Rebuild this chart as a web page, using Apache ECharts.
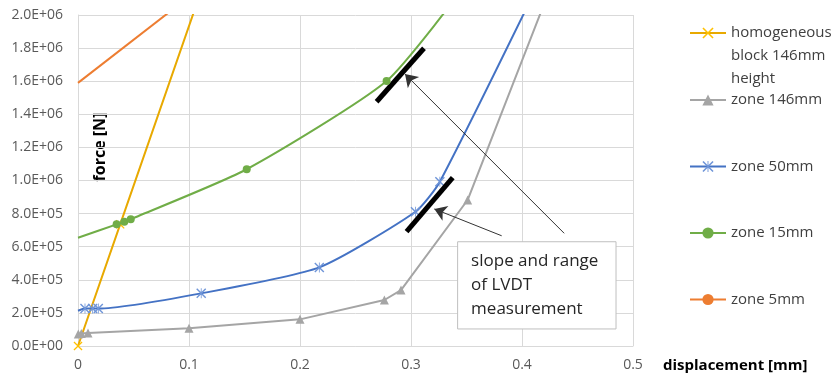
<!DOCTYPE html>
<html>
<head>
<meta charset="utf-8">
<script src="https://cdn.jsdelivr.net/npm/echarts@6/dist/echarts.min.js"></script>
<style>
html,body{margin:0;padding:0;background:#fff;}
#c{width:833px;height:380px;}
</style>
</head>
<body>
<div id="c"></div>
<script>
// ---- data (displacement [mm], force [N]) ----
const seriesNames = ['homogeneous block 146mm height', 'zone 146mm', 'zone 50mm', 'zone 15mm', 'zone 5mm'];
const homogeneous = [[0, 0], [0.038, 0.735e6], [0.12, 2.32e6]];
const zone146 = [[0.0003, 0.072e6], [0.003, 0.075e6], [0.009, 0.078e6], [0.1, 0.107e6], [0.2, 0.161e6], [0.276, 0.278e6], [0.291, 0.338e6], [0.351, 0.882e6], [0.43, 2.24e6]];
const zone50 = [[0, 0.213e6], [0.0063, 0.226e6], [0.0132, 0.226e6], [0.0183, 0.226e6], [0.111, 0.318e6], [0.2174, 0.475e6], [0.304, 0.811e6], [0.326, 0.993e6], [0.42, 2.26e6]];
const zone15 = [[0, 0.654e6], [0.0348, 0.735e6], [0.0417, 0.751e6], [0.0475, 0.766e6], [0.152, 1.068e6], [0.278, 1.601e6], [0.35, 2.19e6]];
const zone5 = [[0, 1.59e6], [0.1, 2.11e6]];
// LVDT slope/range segments and arrows (data coordinates)
const lvdtLines = [[[0.269, 1.476e6], [0.3117, 1.799e6]], [[0.296, 0.691e6], [0.3376, 1.017e6]]];
const arrows = [[[0.438, 0.681e6], [0.2946, 1.643e6]], [[0.3817, 0.666e6], [0.3210, 0.828e6]]];
const noteBox = [[0.342, 0.630e6], [0.4847, 0.103e6]];
const noteText = 'slope and range\nof LVDT\nmeasurement';
const xTickLabels = { min: 0, max: 0.5, step: 0.1 };
const yTickLabels = { min: 0, max: 2e6, step: 2e5 };

const FONT = '"Open Sans", sans-serif';
const colors = ['#E8A900', '#A5A5A5', '#4472C4', '#70AD47', '#ED7D31'];

function hideFirst(arr) {
  return arr.map((p, i) => i === 0 ? { value: p, symbol: 'none' } : p);
}
function fmtE(v) {
  if (v === 0) return '0.0E+00';
  const e = Math.floor(Math.log10(Math.abs(v)) + 1e-9);
  const m = v / Math.pow(10, e);
  return m.toFixed(1) + 'E+' + (e < 10 ? '0' + e : e);
}
const xPath = 'path://M0,1 L1,0 L5,4 L9,0 L10,1 L6,5 L10,9 L9,10 L5,6 L1,10 L0,9 L4,5 Z';
const starPath = 'path://M0,1 L1,0 L5,4 L9,0 L10,1 L6,5 L10,9 L9,10 L5,6 L1,10 L0,9 L4,5 Z M4.6,0 L5.4,0 L5.4,10 L4.6,10 Z';

const chart = echarts.init(document.getElementById('c'), null, { renderer: 'canvas' });
const option = {
  animation: false,
  textStyle: { fontFamily: FONT },
  grid: { left: 78, right: 200, top: 15, bottom: 34, containLabel: false },
  xAxis: {
    type: 'value', min: xTickLabels.min, max: xTickLabels.max, interval: xTickLabels.step,
    axisLine: { show: true, lineStyle: { color: '#d9d9d9', width: 1 } },
    axisTick: { show: false },
    splitLine: { show: true, lineStyle: { color: '#d9d9d9', width: 1 } },
    axisLabel: { color: '#595959', fontSize: 14, margin: 12, fontFamily: FONT },
    name: 'displacement [mm]', nameLocation: 'end', nameGap: 30,
    nameTextStyle: { fontWeight: 'bold', fontSize: 15, color: '#000', fontFamily: FONT, verticalAlign: 'top', padding: [12, 0, 0, 0] }
  },
  yAxis: {
    type: 'value', min: yTickLabels.min, max: yTickLabels.max, interval: yTickLabels.step,
    axisLine: { show: true, lineStyle: { color: '#d9d9d9', width: 1 } },
    axisTick: { show: false },
    splitLine: { show: true, lineStyle: { color: '#d9d9d9', width: 1 } },
    axisLabel: { color: '#595959', fontSize: 14, margin: 15, formatter: fmtE, fontFamily: FONT }
  },
  legend: [
    {
      data: [seriesNames[0]], orient: 'vertical', left: 689, top: -24.5, padding: 0,
      itemWidth: 36, itemHeight: 14,
      formatter: () => '\n\nhomogeneous\nblock 146mm\nheight',
      textStyle: { fontSize: 15, color: '#404040', lineHeight: 23, fontFamily: FONT }
    },
    {
      data: seriesNames.slice(1), orient: 'vertical', left: 689, top: 90, padding: 0,
      itemWidth: 36, itemHeight: 14, itemGap: 46.5,
      textStyle: { fontSize: 15, color: '#404040', lineHeight: 20, fontFamily: FONT }
    }
  ],
  graphic: [
    { type: 'text', x: 100, y: 147, rotation: Math.PI / 2,
      style: { text: 'force [N]', fontSize: 16, fontWeight: 'bold', fill: '#000', fontFamily: FONT, textAlign: 'center', textVerticalAlign: 'middle' } }
  ],
  series: [
    { name: seriesNames[0], type: 'line', data: homogeneous, color: colors[0],
      lineStyle: { width: 2, color: colors[0] }, symbol: xPath, symbolSize: 9,
      itemStyle: { color: '#FFC000' }, z: 2 },
    { name: seriesNames[1], type: 'line', data: zone146, color: colors[1],
      lineStyle: { width: 2, color: colors[1] }, symbol: 'triangle', symbolSize: 9,
      itemStyle: { color: colors[1] }, z: 3 },
    { name: seriesNames[2], type: 'line', data: hideFirst(zone50), color: colors[2], smooth: 0.2,
      lineStyle: { width: 2, color: colors[2] }, symbol: starPath, symbolSize: 10,
      itemStyle: { color: '#6f95d8' }, z: 4 },
    { name: seriesNames[3], type: 'line', data: hideFirst(zone15), color: colors[3], smooth: 0.2,
      lineStyle: { width: 2, color: colors[3] }, symbol: 'circle', symbolSize: 8,
      itemStyle: { color: colors[3] }, z: 5 },
    { name: seriesNames[4], type: 'line', data: hideFirst(zone5), color: colors[4],
      lineStyle: { width: 2, color: colors[4] }, symbol: 'circle', symbolSize: 8,
      itemStyle: { color: colors[4] }, z: 6 },
    { name: 'annotations', type: 'line', data: [], z: 10, silent: true,
      markArea: {
        silent: true,
        itemStyle: { color: '#ffffff', borderColor: '#bfbfbf', borderWidth: 1, opacity: 1 },
        label: { show: true, position: 'insideTopLeft', distance: 0, padding: [8, 0, 0, 14],
          fontSize: 17, lineHeight: 24, color: '#262626', fontFamily: FONT },
        data: [[{ coord: noteBox[0], name: noteText }, { coord: noteBox[1] }]]
      },
      markLine: {
        silent: true, animation: false,
        label: { show: false },
        emphasis: { disabled: true },
        data: [
          ...lvdtLines.map(s => [
            { coord: s[0], symbol: 'none', lineStyle: { color: '#000', width: 5, type: 'solid' } },
            { coord: s[1], symbol: 'none' }
          ]),
          ...arrows.map(s => [
            { coord: s[0], symbol: 'none', lineStyle: { color: '#333', width: 1, type: 'solid' } },
            { coord: s[1], symbol: 'arrow', symbolSize: 12 }
          ])
        ]
      }
    }
  ]
};
chart.setOption(option);
</script>
</body>
</html>
